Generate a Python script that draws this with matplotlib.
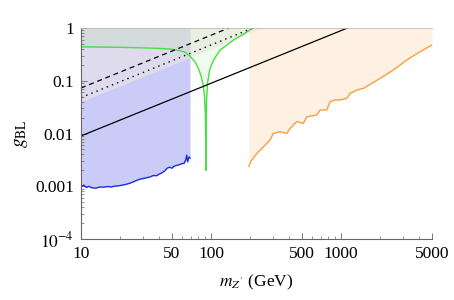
import numpy as np
import matplotlib
matplotlib.use("Agg")
import matplotlib.pyplot as plt
from matplotlib.ticker import LogLocator, FixedLocator, NullFormatter

plt.rcParams['font.family'] = ['Liberation Serif', 'DejaVu Serif']
plt.rcParams['mathtext.fontset'] = 'stix'

# --- DATA ---
# blue exclusion curve (low mass)
blue_m = [10, 10.5, 11, 11.5, 12, 13, 14, 15, 16, 17, 18, 20, 22, 24, 26, 28, 30,
          32, 34, 36, 38, 40, 42, 44, 46, 48, 50, 52, 55, 58, 60, 62, 64, 65, 66, 67, 68, 69]
blue_g = [0.00098, 0.00105, 0.00095, 0.00100, 0.00094, 0.00092, 0.00097, 0.00096, 0.00099,
          0.00097, 0.00100, 0.00103, 0.00108, 0.00115, 0.00125, 0.00135, 0.00140, 0.00145,
          0.00150, 0.00160, 0.00158, 0.00170, 0.00180, 0.00195, 0.0022, 0.0023, 0.0022,
          0.0024, 0.0025, 0.0026, 0.0027, 0.0027, 0.0032, 0.0039, 0.0029, 0.0034, 0.0036, 0.0034]

# green curve (Z pole dip)
green_m = [10, 20, 30, 40, 48, 55, 63, 69, 75, 80, 84, 87, 89, 90.3, 91.0, 91.2,
           91.4, 92.2, 94, 97, 100, 105, 117, 130, 150, 180, 210]
green_g = [0.44, 0.43, 0.42, 0.41, 0.40, 0.38, 0.35, 0.29, 0.23, 0.17, 0.12, 0.083, 0.05,
           0.025, 0.008, 0.002, 0.008, 0.04, 0.09, 0.15, 0.19, 0.25, 0.38, 0.46, 0.60, 0.78, 1.0]

# orange curve (high mass)
orange_m = [195, 205, 225, 253, 284, 301, 340, 382, 405, 456, 513, 545, 650, 689, 776,
            823, 899, 982, 1106, 1173, 1320, 1485, 1995, 2525, 3200, 4053, 5000]
orange_g = [0.0024, 0.0031, 0.0042, 0.0056, 0.0075, 0.0100, 0.0108, 0.0100, 0.0125, 0.0168,
            0.0156, 0.0208, 0.0224, 0.0279, 0.0279, 0.040, 0.0432, 0.0432, 0.0465, 0.0578,
            0.0668, 0.0717, 0.111, 0.16, 0.247, 0.356, 0.476]

# straight black lines (endpoints)
solid_m, solid_g = [10, 1120], [0.0090, 1.0]
dashed_m, dashed_g = [10, 137], [0.073, 1.0]
dotted_m, dotted_g = [10, 210], [0.048, 1.0]

# boundary of the grey band
band_m, band_g = [10, 250], [0.04, 1.0]

xticks = [10, 50, 100, 500, 1000, 5000]
xticklabels = ['10', '50', '100', '500', '1000', '5000']
yticks = [1e-4, 1e-3, 1e-2, 1e-1, 1]
yticklabels = [r'$10^{-4}$', '0.001', '0.01', '0.1', '1']

fig = plt.figure(figsize=(4.54, 3.0), dpi=100)
ax = fig.add_axes([81 / 454, 61 / 300, 351 / 454, 211 / 300])
ax.set_xscale('log')
ax.set_yscale('log')
ax.set_xlim(10, 5000)
ax.set_ylim(1e-4, 1)

# filled regions
ax.fill_between(blue_m, blue_g, 1, color='#3333e6', alpha=0.25, lw=0)
ax.fill_between(band_m, band_g, 1, color='#efe9e4', alpha=0.55, lw=0)
ax.fill_between(green_m, green_g, 1, color='#90e070', alpha=0.12, lw=0)
ax.fill_between(orange_m, orange_g, 1, color='#fde0c4', alpha=0.45, lw=0)

# curves
ax.plot(blue_m, blue_g, color='#1a2ee6', lw=1.0)
ax.plot(green_m, green_g, color='#44e044', lw=1.0)
ax.plot(orange_m, orange_g, color='#f7a040', lw=1.0)
ax.plot(solid_m, solid_g, color='black', lw=0.9)
ax.plot(dashed_m, dashed_g, color='black', lw=0.9, linestyle=(0, (4, 3)))
ax.plot(dotted_m, dotted_g, color='black', lw=1.0, linestyle=(0, (1, 3)))

# frame
for s in ['left', 'bottom']:
    ax.spines[s].set_color('#666666')
    ax.spines[s].set_linewidth(0.8)
ax.spines['top'].set_color('#bbbbbb')
ax.spines['top'].set_linewidth(0.6)
ax.spines['right'].set_visible(False)

ax.xaxis.set_major_locator(FixedLocator(xticks))
ax.set_xticklabels(xticklabels)
ax.xaxis.set_minor_locator(LogLocator(base=10, subs=np.arange(2, 10)))
ax.xaxis.set_minor_formatter(NullFormatter())
ax.yaxis.set_major_locator(FixedLocator(yticks))
ax.set_yticklabels(yticklabels)
ax.yaxis.set_minor_locator(LogLocator(base=10, subs=np.arange(2, 10)))
ax.yaxis.set_minor_formatter(NullFormatter())

ax.tick_params(which='both', direction='in', color='#666666', labelsize=12.5,
               top=False, right=False)
ax.tick_params(which='major', length=4, width=0.6, pad=5)
ax.tick_params(which='minor', length=2, width=0.5)

ax.set_xlabel(r'$m_{Z^{\prime}}$ (GeV)', fontsize=12.5, labelpad=8)
ax.set_ylabel(r'$g_{\mathrm{BL}}$', fontsize=14, labelpad=4)

fig.savefig('out.png', dpi=100)
